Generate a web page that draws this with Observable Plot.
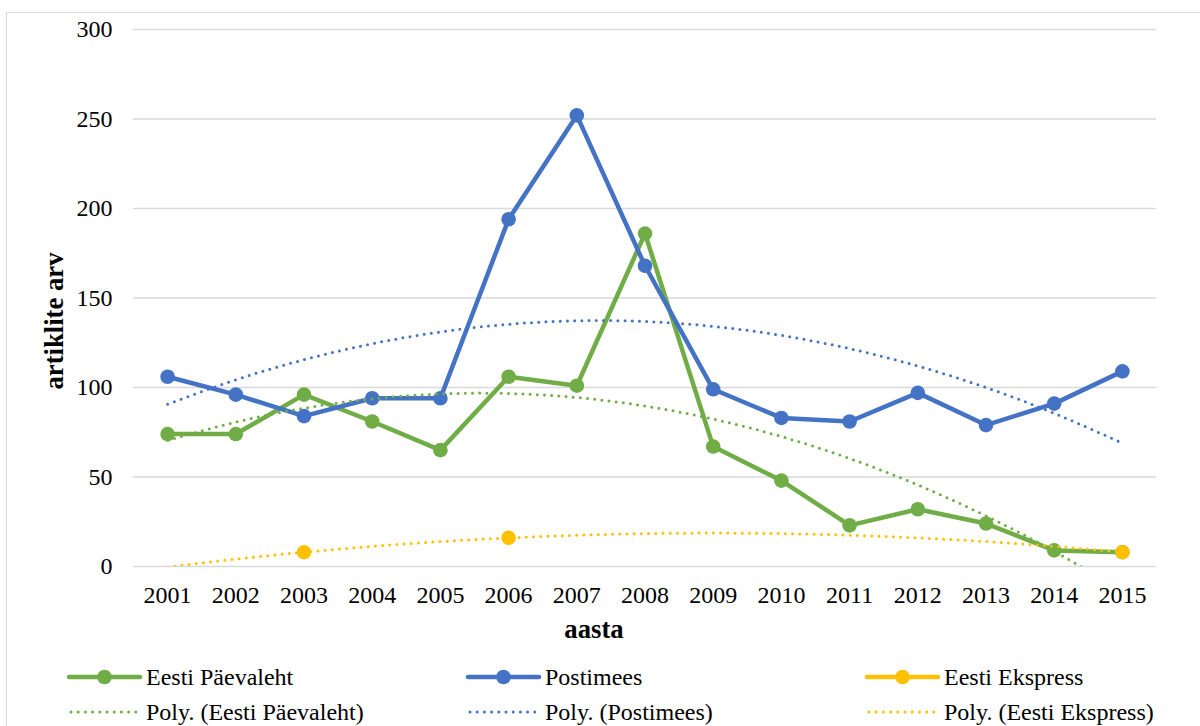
<!DOCTYPE html>
<html>
<head>
<meta charset="utf-8">
<script src="https://cdn.jsdelivr.net/npm/d3@7"></script>
<script src="https://cdn.jsdelivr.net/npm/@observablehq/plot@0.6"></script>
<style>
  html, body { margin: 0; padding: 0; background: #fff; }
  #wrap { position: relative; width: 1200px; height: 726px; overflow: hidden; background: #fff; }
  #frame { position: absolute; left: 6px; top: 12px; width: 1300px; height: 800px; border: 1.5px solid #d9d9d9; box-sizing: border-box; }
  #chart { position: absolute; left: 0; top: 0; }
  #overlay { position: absolute; left: 0; top: 0; }
  #chart svg, #chart svg text { font-family: "Liberation Serif", "Times New Roman", serif !important; }
</style>
</head>
<body>
<div id="wrap">
  <div id="frame"></div>
  <div id="chart"></div>
  <svg id="overlay" width="1200" height="726"></svg>
</div>
<script>
// ---- data ----
const years = [2001, 2002, 2003, 2004, 2005, 2006, 2007, 2008, 2009, 2010, 2011, 2012, 2013, 2014, 2015];
const paevaleht = [74, 74, 96, 81, 65, 106, 101, 186, 67, 48, 23, 32, 24, 9, 8];
const postimees = [106, 96, 84, 94, 94, 194, 252, 168, 99, 83, 81, 97, 79, 91, 109];
const ekspress = [null, null, 8, null, null, 16, null, null, null, null, null, null, null, null, 8];
const yTicks = [0, 50, 100, 150, 200, 250, 300];
const seriesNames = ["Eesti Päevaleht", "Postimees", "Eesti Ekspress"];
const trendNames = ["Poly. (Eesti Päevaleht)", "Poly. (Postimees)", "Poly. (Eesti Ekspress)"];
const colors = ["#70AD47", "#4472C4", "#FFC000"];

// ---- order-2 polynomial trendline (least squares on category index, as Excel does) ----
function polyFit2(values) {
  const pts = values.map((v, i) => [i + 1, v]).filter(d => d[1] != null);
  const S = [0, 0, 0, 0, 0], T = [0, 0, 0];
  for (const [x, y] of pts) {
    for (let k = 0; k <= 4; k++) S[k] += Math.pow(x, k);
    for (let k = 0; k <= 2; k++) T[k] += y * Math.pow(x, k);
  }
  const A = [[S[0], S[1], S[2], T[0]], [S[1], S[2], S[3], T[1]], [S[2], S[3], S[4], T[2]]];
  for (let c = 0; c < 3; c++) {
    let p = c;
    for (let r = c + 1; r < 3; r++) if (Math.abs(A[r][c]) > Math.abs(A[p][c])) p = r;
    [A[c], A[p]] = [A[p], A[c]];
    for (let r = 0; r < 3; r++) {
      if (r === c) continue;
      const f = A[r][c] / A[c][c];
      for (let k = c; k < 4; k++) A[r][k] -= f * A[c][k];
    }
  }
  const coef = [A[0][3] / A[0][0], A[1][3] / A[1][1], A[2][3] / A[2][2]];
  return years.map((yr, i) => {
    const x = i + 1;
    return { year: yr, value: coef[0] + coef[1] * x + coef[2] * x * x };
  });
}

const rows = arr => years.map((yr, i) => ({ year: yr, value: arr[i] })).filter(d => d.value != null);
const seriesData = [paevaleht, postimees, ekspress];
const trends = seriesData.map(polyFit2);

const serif = "'Liberation Serif', 'Times New Roman', serif";
const LW = 4.5, R = 7.3, TW = 3, DASH = "0 7.2";

const chart = Plot.plot({
  width: 1200,
  height: 650,
  marginLeft: 133,
  marginRight: 44,
  marginTop: 29,
  marginBottom: 84,
  style: { fontFamily: serif, fontSize: "24px", color: "#000", background: "transparent", overflow: "visible" },
  x: { type: "linear", domain: [2000.5, 2015.5] },
  y: { type: "linear", domain: [0, 300] },
  marks: [
    Plot.ruleY(yTicks, { stroke: "#d9d9d9", strokeWidth: 1.5 }),
    Plot.axisY(yTicks, { tickSize: 0, tickPadding: 21, tickFormat: d => String(d), label: null, fontSize: 24, fontFamily: serif }),
    Plot.axisX(years, { tickSize: 0, tickPadding: 19, tickFormat: d => String(d), label: null, fontSize: 24, fontFamily: serif }),
    // Eesti Päevaleht
    Plot.line(rows(paevaleht), { x: "year", y: "value", stroke: colors[0], strokeWidth: LW, strokeLinejoin: "round" }),
    Plot.dot(rows(paevaleht), { x: "year", y: "value", r: R, fill: colors[0] }),
    // Postimees
    Plot.line(rows(postimees), { x: "year", y: "value", stroke: colors[1], strokeWidth: LW, strokeLinejoin: "round" }),
    Plot.dot(rows(postimees), { x: "year", y: "value", r: R, fill: colors[1] }),
    // Eesti Ekspress (isolated points)
    Plot.dot(rows(ekspress), { x: "year", y: "value", r: R, fill: colors[2] }),
    // trendlines
    ...trends.map((t, k) => Plot.line(t, { x: "year", y: "value", stroke: colors[k], strokeWidth: TW, strokeDasharray: DASH, strokeLinecap: "round", curve: "natural", clip: true }))
  ]
});
document.getElementById("chart").appendChild(chart);

// ---- titles and legend ----
const ov = d3.select("#overlay");
ov.append("text").attr("x", 594).attr("y", 638).attr("text-anchor", "middle")
  .attr("font-family", serif).attr("font-weight", "bold").attr("font-size", 26.7).text("aasta");
ov.append("text").attr("transform", "translate(63,321) rotate(-90)").attr("text-anchor", "middle")
  .attr("font-family", serif).attr("font-weight", "bold").attr("font-size", 26.7).text("artiklite arv");

const legendX = [69, 468, 867];
const legendY = [677, 712];
seriesNames.forEach((name, k) => {
  const x0 = legendX[k], y0 = legendY[0];
  ov.append("line").attr("x1", x0).attr("x2", x0 + 71).attr("y1", y0).attr("y2", y0)
    .attr("stroke", colors[k]).attr("stroke-width", LW).attr("stroke-linecap", "round");
  ov.append("circle").attr("cx", x0 + 35.5).attr("cy", y0).attr("r", R).attr("fill", colors[k]);
  ov.append("text").attr("x", x0 + 77).attr("y", y0).attr("dy", "0.33em")
    .attr("font-family", serif).attr("font-size", 24).text(name);
});
trendNames.forEach((name, k) => {
  const x0 = legendX[k], y0 = legendY[1];
  ov.append("line").attr("x1", x0 + 2).attr("x2", x0 + 69).attr("y1", y0).attr("y2", y0)
    .attr("stroke", colors[k]).attr("stroke-width", TW).attr("stroke-dasharray", DASH).attr("stroke-linecap", "round");
  ov.append("text").attr("x", x0 + 77).attr("y", y0).attr("dy", "0.33em")
    .attr("font-family", serif).attr("font-size", 24).text(name);
});
</script>
</body>
</html>
